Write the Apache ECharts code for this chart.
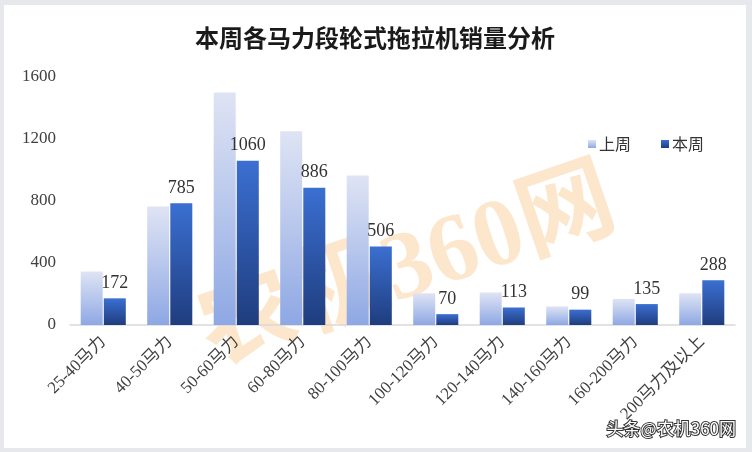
<!DOCTYPE html>
<html><head><meta charset="utf-8">
<script src="https://cdn.jsdelivr.net/npm/echarts@6/dist/echarts.min.js"></script>
<style>html,body{margin:0;padding:0;background:#e6e8ec;}#c{position:absolute;left:4px;top:5px;width:742px;height:443px;background:#fff;}</style>
</head><body><div id="c"></div>
<script>
const categories = ['25-40马力','40-50马力','50-60马力','60-80马力','80-100马力','100-120马力','120-140马力','140-160马力','160-200马力','200马力及以上'];
const lastWeek = [345, 765, 1500, 1250, 965, 205, 210, 120, 168, 205];
const thisWeek = [172, 785, 1060, 886, 506, 70, 113, 99, 135, 288];
const yTicks = [0, 400, 800, 1200, 1600];

const chart = echarts.init(document.getElementById('c'), null, {renderer: 'canvas'});
const serif = "'Liberation Serif', 'Noto Sans CJK SC', serif";
chart.setOption({
  animation: false,
  backgroundColor: 'transparent',
  title: {
    text: '本周各马力段轮式拖拉机销量分析',
    left: 'center', top: 16,
    textStyle: {fontFamily: "'Noto Sans CJK SC'", fontSize: 24, fontWeight: 'bold', color: '#1a1a1a'}
  },
  graphic: [
    {type: 'text', left: 185, top: 150, rotation: 0.33, silent: true, zlevel: -1, z: 0,
     style: {text: '农机360网', fontSize: 96, fontWeight: 'bold', fontFamily: "'Liberation Serif','Noto Sans CJK SC'", fill: 'rgba(248,196,130,0.4)'}},
    {type: 'text', right: 9, bottom: 10, z: 100,
     style: {text: '头条@农机360网', fontSize: 17, fontFamily: "'Noto Sans CJK SC'", fill: '#fff', stroke: '#333', lineWidth: 2}}
  ],
  legend: {
    left: 579, top: 126, itemWidth: 8, itemHeight: 8, itemGap: 30, icon: 'rect',
    textStyle: {fontFamily: "'Noto Sans CJK SC'", fontSize: 16, color: '#333', padding: [0,0,0,-2]},
    data: ['上周', '本周']
  },
  grid: {left: 66, right: 11, top: 72, bottom: 123},
  xAxis: {
    type: 'category', data: categories,
    axisLine: {lineStyle: {color: '#d9d9d9', width: 1.5}},
    axisTick: {show: false},
    axisLabel: {rotate: 45, interval: 0, fontFamily: serif, fontSize: 17, color: '#404040', margin: 14}
  },
  yAxis: {
    type: 'value', min: 0, max: 1600, interval: 400,
    axisLine: {show: false}, axisTick: {show: false}, splitLine: {show: false},
    axisLabel: {fontFamily: serif, fontSize: 17, color: '#404040', margin: 14,
      formatter: v => yTicks.includes(v) ? String(v) : ''}
  },
  series: [
    {name: '上周', type: 'bar', data: lastWeek, barWidth: 22, barGap: '5%', z: 10,
     itemStyle: {color: new echarts.graphic.LinearGradient(0,0,0,1,[{offset:0,color:'#dfe4f4'},{offset:1,color:'#8ea8e4'}])}},
    {name: '本周', type: 'bar', data: thisWeek, barWidth: 22, z: 10,
     itemStyle: {color: new echarts.graphic.LinearGradient(0,0,0,1,[{offset:0,color:'#3b6fd1'},{offset:1,color:'#1f3d7e'}])},
     label: {show: true, position: 'top', distance: 6, fontFamily: serif, fontSize: 18, color: '#333'}}
  ]
});
</script></body></html>
